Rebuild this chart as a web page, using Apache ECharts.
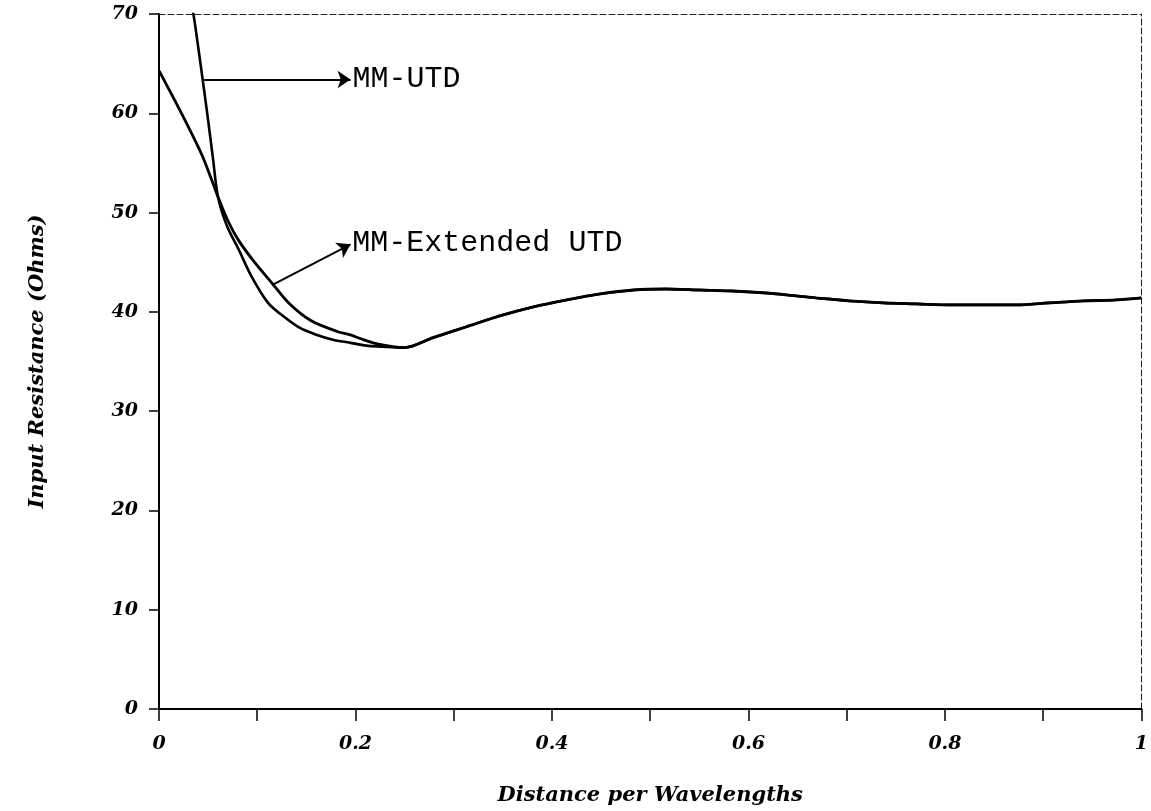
<!DOCTYPE html>
<html>
<head>
<meta charset="UTF-8">
<title>Input Resistance</title>
<script src="https://cdn.jsdelivr.net/npm/echarts@6/dist/echarts.min.js"></script>
<style>
  html, body { margin: 0; padding: 0; background: #fff; }
  #main { width: 1151px; height: 811px; }
</style>
</head>
<body>
<div id="main"></div>
<script>
// MM-UTD, steep start (goes above 70 near x = 0)
var utdX = [0, 0.02, 0.035, 0.040, 0.045, 0.050, 0.055, 0.060, 0.069, 0.081, 0.094, 0.111, 0.126, 0.143, 0.160, 0.177, 0.194, 0.211, 0.228, 0.245];
var utdR = [90, 78, 70, 66.6, 63.0, 59.3, 55.4, 51.6, 48.7, 46.3, 43.6, 40.9, 39.6, 38.4, 37.7, 37.2, 36.9, 36.6, 36.5, 36.4];

// MM-Extended UTD, start
var extX = [0, 0.015, 0.030, 0.045, 0.060, 0.070, 0.081, 0.098, 0.115, 0.132, 0.155, 0.182, 0.194, 0.208, 0.221, 0.238];
var extR = [64.3, 61.5, 58.6, 55.5, 51.6, 49.2, 47.2, 44.9, 42.9, 40.9, 39.1, 38.0, 37.7, 37.2, 36.8, 36.5];

// both curves coincide from here on
var tailX = [0.250, 0.279, 0.313, 0.347, 0.381, 0.415, 0.449, 0.483, 0.516, 0.550, 0.584, 0.618, 0.649, 0.669, 0.703, 0.737, 0.771, 0.805, 0.839, 0.873, 0.906, 0.940, 0.974, 1.0];
var tailR = [36.4, 37.4, 38.5, 39.6, 40.5, 41.2, 41.8, 42.2, 42.3, 42.2, 42.1, 41.9, 41.6, 41.4, 41.1, 40.9, 40.8, 40.7, 40.7, 40.7, 40.9, 41.1, 41.2, 41.4];

// annotation arrows: [from x, from R, to x, to R]
var utdArrow = [0.046, 63.4, 0.195, 63.4];
var extArrow = [0.115, 42.7, 0.195, 46.8];

function pairs(xs, ys) {
    var out = [];
    for (var i = 0; i < xs.length; i++) out.push([xs[i], ys[i]]);
    return out;
}

var tickFont = {
    color: '#000',
    fontFamily: 'DejaVu Serif',
    fontStyle: 'italic',
    fontWeight: 'bold',
    fontSize: 19
};
var nameFont = Object.assign({}, tickFont, { fontSize: 21 });
var noteFont = {
    color: '#000',
    fontFamily: 'Liberation Mono',
    fontSize: 30
};

function arrow(a, text) {
    return [
        { coord: [a[0], a[1]] },
        { coord: [a[2], a[3]], label: Object.assign({ show: true, position: 'end', distance: 2, formatter: text }, noteFont) }
    ];
}

var myChart = echarts.init(document.getElementById('main'));

var option = {
    backgroundColor: '#fff',
    animation: false,
    grid: { left: 159, right: 9, top: 14, bottom: 101 },
    xAxis: [{
        type: 'value',
        min: 0, max: 1, interval: 0.1,
        name: 'Distance per Wavelengths',
        nameLocation: 'middle',
        nameGap: 76,
        nameTextStyle: nameFont,
        axisLine: { lineStyle: { color: '#000', width: 2 } },
        axisTick: { inside: false, length: 12, lineStyle: { color: '#000', width: 1.5 } },
        axisLabel: Object.assign({
            margin: 26,
            formatter: function (v) {
                var k = Math.round(v * 10);
                if (k % 2 !== 0) return '';
                if (k === 0) return '0';
                if (k === 10) return '1';
                return (k / 10).toFixed(1);
            }
        }, tickFont),
        splitLine: { show: false }
    }, {
        type: 'value',
        position: 'top',
        min: 0, max: 1,
        axisLine: { onZero: false, lineStyle: { color: '#222', width: 1, type: [6, 3] } },
        axisTick: { show: false },
        axisLabel: { show: false },
        splitLine: { show: false }
    }],
    yAxis: [{
        type: 'value',
        min: 0, max: 70, interval: 10,
        name: 'Input Resistance (Ohms)',
        nameLocation: 'middle',
        nameGap: 111,
        nameTextStyle: nameFont,
        axisLine: { show: true, onZero: false, lineStyle: { color: '#000', width: 2 } },
        axisTick: { show: true, inside: false, length: 10, lineStyle: { color: '#000', width: 1.5 } },
        axisLabel: Object.assign({ margin: 21 }, tickFont),
        splitLine: { show: false }
    }, {
        type: 'value',
        position: 'right',
        min: 0, max: 70,
        axisLine: { show: true, onZero: false, lineStyle: { color: '#222', width: 1, type: [6, 3] } },
        axisTick: { show: false },
        axisLabel: { show: false },
        splitLine: { show: false }
    }],
    series: [{
        name: 'MM-UTD',
        type: 'line',
        xAxisIndex: 0, yAxisIndex: 0,
        data: pairs(utdX.concat(tailX), utdR.concat(tailR)),
        showSymbol: false,
        smooth: 0.3,
        clip: true,
        lineStyle: { color: '#000', width: 2.6 },
        markLine: {
            silent: true,
            symbol: ['none', 'arrow'],
            symbolSize: 13,
            lineStyle: { color: '#000', width: 2, type: 'solid' },
            data: [arrow(utdArrow, 'MM-UTD'), arrow(extArrow, 'MM-Extended UTD')]
        }
    }, {
        name: 'MM-Extended UTD',
        type: 'line',
        xAxisIndex: 0, yAxisIndex: 0,
        data: pairs(extX.concat(tailX), extR.concat(tailR)),
        showSymbol: false,
        smooth: 0.3,
        clip: true,
        lineStyle: { color: '#000', width: 2.8 }
    }]
};

myChart.setOption(option);
</script>
</body>
</html>
